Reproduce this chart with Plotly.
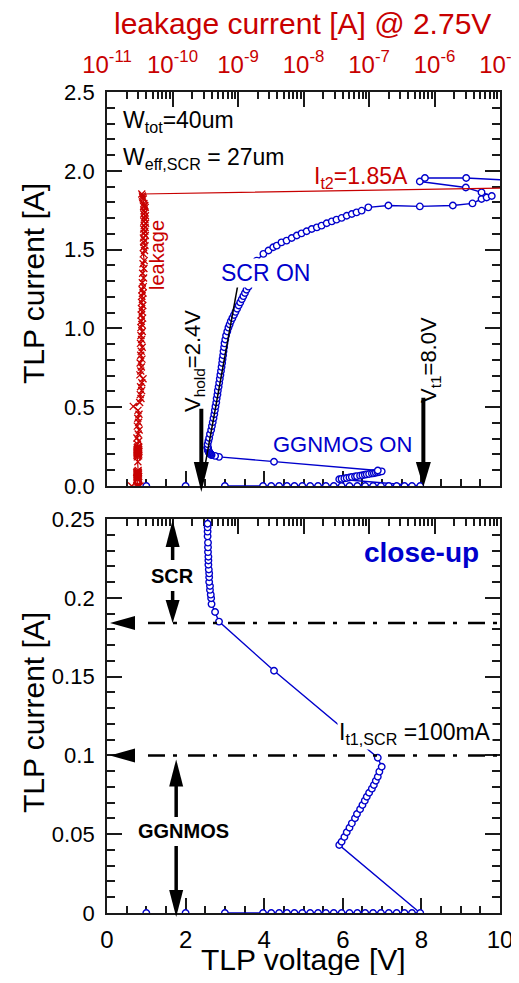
import plotly.graph_objects as go

# ---------------- data ----------------
# TLP sweep: voltage [V] and current [A], in measurement order
tlp_V = [
    1.00, None, 2.00, None, 3.00, 3.97, 4.18, 4.38, 4.58, 4.77,
    4.97, 5.17, 5.37, 5.57, 5.77, 5.97, 6.17, 6.37, 6.57, 6.77,
    6.97, 7.17, 7.37, 7.57, 7.76, 7.97,
    5.91, 5.97, 6.04, 6.10, 6.17, 6.23, 6.31, 6.36, 6.44, 6.50,
    6.56, 6.61, 6.67, 6.74, 6.79, 6.84, 6.89, 6.93, 6.99, 6.89,
    4.25, 2.85,
    2.75, 2.66, 2.65, 2.64, 2.62, 2.62, 2.60, 2.60, 2.60, 2.59,
    2.58, 2.58, 2.58, 2.57, 2.57, 2.57, 2.56, 2.56, 2.56, 2.56,
    2.56, 2.58, 2.60, 2.62, 2.65, 2.67, 2.69, 2.71, 2.73, 2.745,
    2.76, 2.78, 2.79, 2.81, 2.82, 2.84, 2.855, 2.87, 2.885, 2.90,
    2.915, 2.93, 2.94, 2.955, 2.965, 2.98, 2.99, 3.01, 3.03, 3.06,
    3.09, 3.12, 3.15, 3.19, 3.23, 3.27, 3.31, 3.35, 3.39, 3.43,
    3.47, 3.51, 3.55, 3.60, 3.65, 3.70, 3.74, 3.78, 3.81, 3.81,
    3.98, 4.11, 4.23, 4.32, 4.44, 4.57, 4.70, 4.83, 4.95, 5.08,
    5.21, 5.34, 5.46, 5.59, 5.72, 5.84, 5.97, 6.10, 6.23, 6.35,
    6.48, 6.65, 7.16, 7.96, 8.80, 9.30, 9.53, 9.66, 9.79, 9.53,
    9.13, 7.96, 8.09, 9.14, 11.5,
]
tlp_I = [
    0.0, None, 0.0, None, 0.0, 0.0, 0.0, 0.0, 0.0, 0.0,
    0.0, 0.0, 0.0, 0.0, 0.0, 0.0, 0.0, 0.0, 0.0, 0.0,
    0.0, 0.0, 0.0, 0.0, 0.0, 0.0,
    0.0431, 0.0452, 0.0482, 0.0512, 0.0541, 0.0569, 0.0601, 0.0628, 0.0658, 0.0685,
    0.0713, 0.0738, 0.0763, 0.0789, 0.0812, 0.0839, 0.0865, 0.0897, 0.0928, 0.0985,
    0.1537, 0.1849,
    0.1910, 0.1960, 0.1997, 0.2020, 0.2050, 0.2075, 0.2100, 0.2130, 0.2155, 0.2180,
    0.2210, 0.2237, 0.2260, 0.2290, 0.2320, 0.2350, 0.2390, 0.2420, 0.2447, 0.2470,
    0.265, 0.285, 0.305, 0.330, 0.355, 0.380, 0.405, 0.430, 0.455, 0.480,
    0.505, 0.530, 0.555, 0.580, 0.605, 0.630, 0.655, 0.680, 0.705, 0.730,
    0.755, 0.780, 0.805, 0.830, 0.855, 0.880, 0.905, 0.930, 0.955, 0.980,
    1.005, 1.025, 1.045, 1.065, 1.085, 1.105, 1.125, 1.145, 1.165, 1.185,
    1.205, 1.225, 1.245, 1.265, 1.290, 1.320, 1.350, 1.380, 1.410, 1.430,
    1.473, 1.494, 1.515, 1.525, 1.546, 1.557, 1.574, 1.589, 1.603, 1.616,
    1.631, 1.641, 1.652, 1.667, 1.679, 1.690, 1.701, 1.715, 1.726, 1.736,
    1.747, 1.768, 1.780, 1.774, 1.780, 1.793, 1.821, 1.831, 1.840, 1.863,
    1.894, 1.932, 1.954, 1.954, 1.925,
]

# leakage current [A] @ 2.75V measured after each pulse (TLP current [A])
leak_I = [
    0, 0, 0, 0, 0, 0, 0, 0, 0, 0,
    0, 0, 0.043, 0.045, 0.048, 0.051, 0.054, 0.057, 0.060, 0.063,
    0.066, 0.069, 0.071, 0.074, 0.076, 0.079, 0.081, 0.084, 0.087, 0.090,
    0.093, 0.099, 0.154, 0.185, 0.191, 0.196, 0.200, 0.202, 0.205, 0.208,
    0.210, 0.213, 0.216, 0.218, 0.221, 0.224, 0.226, 0.229, 0.232, 0.235,
    0.239, 0.242, 0.245, 0.247, 0.265, 0.285, 0.305, 0.330, 0.355, 0.380,
    0.405, 0.430, 0.455, 0.480, 0.505, 0.530, 0.555, 0.580, 0.605, 0.630,
    0.655, 0.680, 0.705, 0.730, 0.755, 0.780, 0.805, 0.830, 0.855, 0.880,
    0.905, 0.930, 0.955, 0.980, 1.005, 1.025, 1.045, 1.065, 1.085, 1.105,
    1.125, 1.145, 1.165, 1.185, 1.205, 1.225, 1.245, 1.265, 1.290, 1.320,
    1.350, 1.380, 1.410, 1.430, 1.473, 1.494, 1.515, 1.525, 1.546, 1.557,
    1.574, 1.589, 1.603, 1.616, 1.631, 1.641, 1.652, 1.667, 1.679, 1.690,
    1.701, 1.715, 1.726, 1.736, 1.747, 1.768, 1.780, 1.774, 1.780, 1.793,
    1.821, 1.831, 1.840, 1.853, 1.894,
]
leak_A = [
    2.38e-11, 3.19e-11, 2.95e-11, 2.88e-11, 3.02e-11, 2.92e-11, 2.85e-11, 3.05e-11, 2.97e-11, 2.90e-11,
    3.00e-11, 2.93e-11, 2.95e-11, 2.88e-11, 3.02e-11, 2.90e-11, 2.98e-11, 2.85e-11, 3.05e-11, 2.92e-11,
    2.87e-11, 3.00e-11, 2.94e-11, 2.86e-11, 3.03e-11, 2.90e-11, 2.97e-11, 2.84e-11, 3.01e-11, 2.93e-11,
    2.89e-11, 2.99e-11, 2.96e-11, 2.90e-11, 3.04e-11, 2.86e-11, 2.95e-11, 3.06e-11, 2.88e-11, 2.98e-11,
    2.91e-11, 3.03e-11, 2.85e-11, 2.97e-11, 3.08e-11, 2.90e-11, 2.99e-11, 2.87e-11, 3.05e-11, 2.93e-11,
    3.00e-11, 2.89e-11, 3.02e-11, 2.94e-11, 2.92e-11, 3.06e-11, 2.86e-11, 2.99e-11, 3.10e-11, 2.90e-11,
    3.03e-11, 2.95e-11, 3.08e-11, 2.97e-11, 2.52e-11, 3.15e-11, 3.30e-11, 3.22e-11, 3.38e-11, 3.25e-11,
    3.40e-11, 3.55e-11, 3.18e-11, 3.28e-11, 3.35e-11, 3.20e-11, 3.42e-11, 3.27e-11, 3.33e-11, 3.45e-11,
    3.24e-11, 3.37e-11, 3.30e-11, 3.46e-11, 3.29e-11, 3.40e-11, 3.34e-11, 3.50e-11, 3.32e-11, 3.44e-11,
    3.38e-11, 3.52e-11, 3.36e-11, 3.47e-11, 3.41e-11, 3.55e-11, 3.43e-11, 3.58e-11, 3.46e-11, 3.62e-11,
    3.50e-11, 3.66e-11, 3.55e-11, 3.70e-11, 3.58e-11, 3.74e-11, 3.62e-11, 3.80e-11, 3.65e-11, 3.76e-11,
    3.60e-11, 3.85e-11, 3.68e-11, 3.78e-11, 3.63e-11, 3.82e-11, 3.70e-11, 3.88e-11, 3.66e-11, 3.80e-11,
    3.72e-11, 3.86e-11, 3.64e-11, 3.79e-11, 3.68e-11, 3.84e-11, 3.71e-11, 3.62e-11, 3.77e-11, 3.66e-11,
    3.58e-11, 3.52e-11, 3.47e-11, 3.40e-11, 3.0e-5,
]

# axis ticks
volt_ticks = [0, 2, 4, 6, 8, 10]
leak_ticks = [1e-11, 1e-10, 1e-9, 1e-8, 1e-7, 1e-6, 1e-5]
leak_tick_text = ["10<sup>-11</sup>", "10<sup>-10</sup>", "10<sup>-9</sup>", "10<sup>-8</sup>",
                  "10<sup>-7</sup>", "10<sup>-6</sup>", "10<sup>-5</sup>"]
leak_minor = [k * d for d in leak_ticks[:-1] for k in range(2, 10)]

# key parameters annotated in the figure
V_hold = 2.4
V_t1 = 8.0
I_t2 = 1.85
I_t1_scr = 0.100
I_scr_hold = 0.184
scr_fit_end = (3.34, 1.29)

# ---------------- geometry ----------------
# page (screenshot) pixel frame of the plot areas
PAGE_OFF = 8                 # default body margin of the html page
PL, PR, PT, PB = 107, 500, 92, 913
PW, PH = PR - PL, PB - PT    # 393 x 821
W, H = 519 - PAGE_OFF, 983 - 2 * PAGE_OFF
ML, MT = PL - PAGE_OFF, PT - PAGE_OFF
MR, MB = W - ML - PW, H - MT - PH
GAP = 33
PANEL = (PH - GAP) / 2
TOP_DOM0 = (PH - PANEL) / PH
BOT_DOM1 = PANEL / PH
TOP_Y0 = PT + PANEL          # page pixel of I=0 (top panel)

FONT = "Liberation Sans, Arial, sans-serif"
BLUE = "#0000CC"
RED = "#C80000"
AX = "#1a1a1a"


def X(v):
    return PL + v * PW / 10.0


def YT(i):
    return TOP_Y0 - i * PANEL / 2.5


def YB(i):
    return PB - i * PANEL / 0.25


def px(xp):
    return (xp - PL) / PW


def py(yp):
    return (PB - yp) / PH


shapes = []


def seg(x0, y0, x1, y1, w, dash=None, color="black"):
    ln = dict(color=color, width=w)
    if dash:
        ln["dash"] = dash
    shapes.append(dict(type="line", xref="paper", yref="paper",
                       x0=px(x0), y0=py(y0), x1=px(x1), y1=py(y1), line=ln))


def tri(p1, p2, p3):
    path = "M{},{} L{},{} L{},{} Z".format(px(p1[0]), py(p1[1]), px(p2[0]), py(p2[1]),
                                           px(p3[0]), py(p3[1]))
    shapes.append(dict(type="path", xref="paper", yref="paper", path=path,
                       fillcolor="black", line=dict(width=0)))


def vhead(x, tip, base, hw=7.5):
    tri((x, tip), (x - hw, base), (x + hw, base))


def hhead(y, tip, base, hh=7):
    tri((tip, y), (base, y - hh), (base, y + hh))


# V_hold arrow
xh = X(V_hold)
seg(xh, YT(0.49), xh, YT(0) - 22, 4)
vhead(xh, YT(0) + 6, YT(0) - 24)
# V_t1 arrow
xt = X(V_t1 + 0.05)
seg(xt, YT(0.56), xt, YT(0) - 22, 4)
vhead(xt, YT(0) + 1, YT(0) - 24)
# SCR on-state fit line
seg(X(V_hold), YT(0), X(scr_fit_end[0]), YT(scr_fit_end[1]), 1.5)

# close-up: dash-dot levels with arrows
DASH = "17px,8px,4px,11px"
for lvl in (I_scr_hold, I_t1_scr):
    seg(148, YB(lvl), 504, YB(lvl), 2.5, dash=DASH)
    hhead(YB(lvl), 110, 135)
# SCR double arrow
xs = X(1.67)
vhead(xs, YB(0.25) + 1, YB(0.25) + 28, hw=7)
seg(xs, YB(0.25) + 26, xs, 560, 3.5)
seg(xs, 591, xs, YB(I_scr_hold) - 21, 3.5)
vhead(xs, YB(I_scr_hold), YB(I_scr_hold) - 23, hw=7)
# GGNMOS double arrow
xg = X(1.76)
vhead(xg, YB(I_t1_scr) + 4, YB(I_t1_scr) + 31, hw=7)
seg(xg, YB(I_t1_scr) + 29, xg, 817, 3.5)
seg(xg, 846, xg, YB(0) - 21, 3.5)
vhead(xg, YB(0) + 4, YB(0) - 23, hw=7)

# ---------------- annotations ----------------
annotations = []


def ann(text, xp, yp, size, color="black", angle=0, xanchor="center", bold=False, bg=None):
    d = dict(text="<b>" + text + "</b>" if bold else text, x=px(xp), y=py(yp),
             xref="paper", yref="paper", showarrow=False, textangle=angle,
             xanchor=xanchor, yanchor="middle",
             font=dict(family=FONT, size=size, color=color))
    if bg:
        d.update(bgcolor=bg, borderpad=1)
    annotations.append(d)


ann("leakage current [A] @ 2.75V", 302, 24, 30, RED)
ann("TLP current [A]", 33, 284, 30, angle=-90)
ann("TLP current [A]", 33, 713, 30, angle=-90)
ann("TLP voltage [V]", 303, 959, 30)
ann("W<sub>tot</sub>=40um", 121, 121, 23, xanchor="left")
ann("W<sub>eff,SCR</sub> = 27um", 121, 158, 23, xanchor="left")
ann("I<sub>t2</sub>=%.2fA" % I_t2, 312, 177, 23, RED, xanchor="left")
ann("SCR ON", 265, 273, 23, BLUE, bg="white")
ann("GGNMOS ON", 342, 444, 22, BLUE)
ann("leakage", 157, 255, 20, RED, angle=-90)
ann("V<sub>hold</sub>=%.1fV" % V_hold, 194, 361, 22, angle=-90)
ann("V<sub>t1</sub>=%.1fV" % V_t1, 430, 360, 22, angle=-90)
ann("close-up", 421, 552, 28, BLUE, bold=True)
ann("SCR", 172, 576, 20, bold=True)
ann("GGNMOS", 183, 831, 20, bold=True)
ann("I<sub>t1,SCR</sub> =%dmA" % round(I_t1_scr * 1000), 337, 733, 23, xanchor="left", bg="white")

# ---------------- traces ----------------
blue_marker = dict(symbol="circle", size=6.5, color="white", line=dict(color=BLUE, width=1.4))
fig = go.Figure()
for xa, ya in (("x", "y"), ("x2", "y2")):
    fig.add_trace(go.Scatter(x=tlp_V, y=tlp_I, xaxis=xa, yaxis=ya, mode="lines+markers",
                             line=dict(color=BLUE, width=1.4), marker=blue_marker,
                             connectgaps=False, hoverinfo="skip", showlegend=False))
fig.add_trace(go.Scatter(x=leak_A, y=leak_I, xaxis="x3", yaxis="y", mode="lines+markers",
                         line=dict(color=RED, width=1.2),
                         marker=dict(symbol="x-thin", size=7, color=RED,
                                     line=dict(color=RED, width=1.3)),
                         hoverinfo="skip", showlegend=False))
fig.add_trace(go.Scatter(x=[], y=[], xaxis="x4", yaxis="y2", showlegend=False))

common = dict(showline=True, linecolor=AX, linewidth=1.8, showgrid=False, zeroline=False,
              ticks="inside", tickcolor=AX, tickwidth=1.5, layer="below traces",
              automargin=False)
tickfont = dict(family=FONT, size=24, color="black")
yfont = dict(family=FONT, size=22, color="black")
lin_minor = dict(dtick=0.5, ticklen=7, ticks="inside", tickcolor=AX, tickwidth=1.5)
log_minor = dict(tickmode="array", tickvals=leak_minor, ticklen=7, ticks="inside",
                 tickcolor=AX, tickwidth=1.5)

fig.update_layout(
    width=W, height=H, autosize=False, margin=dict(l=ML, r=MR, t=MT, b=MB, pad=0,
                                                   autoexpand=False),
    paper_bgcolor="white", plot_bgcolor="white", showlegend=False,
    xaxis=dict(domain=[0, 1], anchor="y", range=[0, 10], tickvals=volt_ticks, ticklen=15,
               showticklabels=False, minor=lin_minor, **common),
    yaxis=dict(domain=[TOP_DOM0, 1], anchor="x", range=[0, 2.5], dtick=0.5, tick0=0,
               tickformat=".1f", ticklen=15, mirror="ticks", tickfont=yfont,
               ticklabelstandoff=6,
               minor=dict(dtick=0.1, ticklen=8, ticks="inside", tickcolor=AX, tickwidth=1.5),
               **common),
    xaxis2=dict(domain=[0, 1], anchor="y2", range=[0, 10], tickvals=volt_ticks, ticklen=15,
                tickfont=tickfont, ticklabelstandoff=4, ticklabeloverflow="allow",
                minor=lin_minor, **common),
    yaxis2=dict(domain=[0, BOT_DOM1], anchor="x2", range=[0, 0.25], dtick=0.05, tick0=0,
                ticklen=15, mirror="ticks", tickfont=yfont, ticklabelstandoff=6,
                minor=dict(dtick=0.01, ticklen=8, ticks="inside", tickcolor=AX, tickwidth=1.5),
                **common),
    xaxis3=dict(overlaying="x", anchor="y", side="top", type="log", range=[-11, -5],
                tickmode="array", tickvals=leak_ticks, ticktext=leak_tick_text, ticklen=15,
                tickfont=dict(family=FONT, size=24, color=RED), ticklabelstandoff=8,
                ticklabeloverflow="allow", minor=log_minor, **common),
    xaxis4=dict(overlaying="x2", anchor="y2", side="top", type="log", range=[-11, -5],
                tickmode="array", tickvals=leak_ticks, ticklen=15, showticklabels=False,
                minor=log_minor, **common),
    shapes=shapes,
    annotations=annotations,
)

fig.write_html("out.html")
